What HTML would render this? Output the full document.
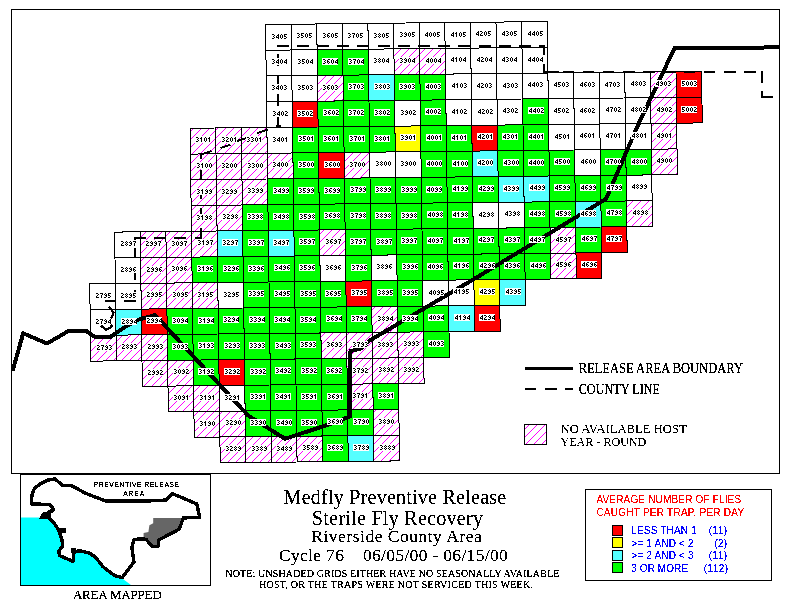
<!DOCTYPE html>
<html><head><meta charset="utf-8"><title>Medfly Preventive Release</title>
<style>
html,body{margin:0;padding:0;background:#fff;}
body{width:792px;height:610px;overflow:hidden;position:relative;font-family:"Liberation Serif",serif;color:#000;}
svg{position:absolute;left:0;top:0;}
.cells polygon{stroke:#000;stroke-width:1;shape-rendering:crispEdges;}
.W{fill:#fff}.H{fill:url(#h)}.G{fill:#0f0}.R{fill:#f00}.Y{fill:#ff0}.C{fill:#5ff}
.lr rect{fill:#fff;shape-rendering:crispEdges;}
.lt{fill:#000;shape-rendering:crispEdges;}
.t{position:absolute;white-space:nowrap;line-height:1;}
.c{text-align:center;}
.sans{font-family:"Liberation Sans",sans-serif;}
</style></head><body>
<svg width="792" height="610" viewBox="0 0 792 610">
<defs>
<filter id="bw" x="-2%" y="-10%" width="104%" height="120%" color-interpolation-filters="sRGB"><feComponentTransfer><feFuncA type="discrete" tableValues="0 0 0 0 1 1 1 1 1 1"/></feComponentTransfer></filter>
<filter id="bw2" x="-2%" y="-10%" width="104%" height="120%" color-interpolation-filters="sRGB"><feComponentTransfer><feFuncA type="table" tableValues="0 0.45 1 1 1"/></feComponentTransfer></filter>
<filter id="bw3" x="-2%" y="-10%" width="104%" height="120%" color-interpolation-filters="sRGB"><feComponentTransfer><feFuncA type="discrete" tableValues="0 0 0 0 0 0 0 1 1 1 1 1 1 1 1 1 1 1 1 1"/></feComponentTransfer></filter>
<filter id="bw4" x="-2%" y="-10%" width="104%" height="120%" color-interpolation-filters="sRGB"><feComponentTransfer><feFuncA type="discrete" tableValues="0 0 0 0 0 0 0 0 0 1 1 1 1 1 1 1 1 1 1 1"/></feComponentTransfer></filter>
<pattern id="h" width="8" height="8" patternUnits="userSpaceOnUse">
<rect width="8" height="8" fill="#fff"/>
<g fill="#f0f" shape-rendering="crispEdges">
<rect x="1" y="0" width="1" height="1"/><rect x="0" y="1" width="1" height="1"/><rect x="7" y="2" width="1" height="1"/><rect x="6" y="3" width="1" height="1"/><rect x="5" y="4" width="1" height="1"/><rect x="4" y="5" width="1" height="1"/><rect x="3" y="6" width="1" height="1"/><rect x="2" y="7" width="1" height="1"/>
</g>
</pattern>
</defs>
<!-- outer frame -->
<rect x="11.5" y="9.5" width="768" height="464" fill="#fff" stroke="#000" stroke-width="1" shape-rendering="crispEdges"/>
<defs><path id="c27" d="M0 0h2v1h-2zM2 1h1v1h-1zM1 2h1v1h-1zM0 3h1v1h-1zM0 4h3v1h-3zM4 0h3v1h-3zM6 1h1v1h-1zM5 2h1v1h-1zM5 3h1v1h-1zM5 4h1v1h-1z"/><path id="c28" d="M0 0h2v1h-2zM2 1h1v1h-1zM1 2h1v1h-1zM0 3h1v1h-1zM0 4h3v1h-3zM5 0h1v1h-1zM4 1h1v1h-1zM6 1h1v1h-1zM5 2h1v1h-1zM4 3h1v1h-1zM6 3h1v1h-1zM5 4h1v1h-1z"/><path id="c29" d="M0 0h2v1h-2zM2 1h1v1h-1zM1 2h1v1h-1zM0 3h1v1h-1zM0 4h3v1h-3zM5 0h1v1h-1zM4 1h1v1h-1zM6 1h1v1h-1zM5 2h2v1h-2zM6 3h1v1h-1zM4 4h2v1h-2z"/><path id="c30" d="M0 0h2v1h-2zM2 1h1v1h-1zM1 2h1v1h-1zM2 3h1v1h-1zM0 4h2v1h-2zM5 0h1v1h-1zM4 1h1v1h-1zM6 1h1v1h-1zM4 2h1v1h-1zM6 2h1v1h-1zM4 3h1v1h-1zM6 3h1v1h-1zM5 4h1v1h-1z"/><path id="c31" d="M0 0h2v1h-2zM2 1h1v1h-1zM1 2h1v1h-1zM2 3h1v1h-1zM0 4h2v1h-2zM5 0h1v1h-1zM4 1h2v1h-2zM5 2h1v1h-1zM5 3h1v1h-1zM5 4h1v1h-1z"/><path id="c32" d="M0 0h2v1h-2zM2 1h1v1h-1zM1 2h1v1h-1zM2 3h1v1h-1zM0 4h2v1h-2zM4 0h2v1h-2zM6 1h1v1h-1zM5 2h1v1h-1zM4 3h1v1h-1zM4 4h3v1h-3z"/><path id="c33" d="M0 0h2v1h-2zM2 1h1v1h-1zM1 2h1v1h-1zM2 3h1v1h-1zM0 4h2v1h-2zM4 0h2v1h-2zM6 1h1v1h-1zM5 2h1v1h-1zM6 3h1v1h-1zM4 4h2v1h-2z"/><path id="c34" d="M0 0h2v1h-2zM2 1h1v1h-1zM1 2h1v1h-1zM2 3h1v1h-1zM0 4h2v1h-2zM6 0h1v1h-1zM5 1h2v1h-2zM4 2h1v1h-1zM6 2h1v1h-1zM4 3h3v1h-3zM6 4h1v1h-1z"/><path id="c35" d="M0 0h2v1h-2zM2 1h1v1h-1zM1 2h1v1h-1zM2 3h1v1h-1zM0 4h2v1h-2zM4 0h3v1h-3zM4 1h1v1h-1zM4 2h2v1h-2zM6 3h1v1h-1zM4 4h2v1h-2z"/><path id="c36" d="M0 0h2v1h-2zM2 1h1v1h-1zM1 2h1v1h-1zM2 3h1v1h-1zM0 4h2v1h-2zM5 0h2v1h-2zM4 1h1v1h-1zM4 2h2v1h-2zM4 3h1v1h-1zM6 3h1v1h-1zM5 4h1v1h-1z"/><path id="c37" d="M0 0h2v1h-2zM2 1h1v1h-1zM1 2h1v1h-1zM2 3h1v1h-1zM0 4h2v1h-2zM4 0h3v1h-3zM6 1h1v1h-1zM5 2h1v1h-1zM5 3h1v1h-1zM5 4h1v1h-1z"/><path id="c38" d="M0 0h2v1h-2zM2 1h1v1h-1zM1 2h1v1h-1zM2 3h1v1h-1zM0 4h2v1h-2zM5 0h1v1h-1zM4 1h1v1h-1zM6 1h1v1h-1zM5 2h1v1h-1zM4 3h1v1h-1zM6 3h1v1h-1zM5 4h1v1h-1z"/><path id="c39" d="M0 0h2v1h-2zM2 1h1v1h-1zM1 2h1v1h-1zM2 3h1v1h-1zM0 4h2v1h-2zM5 0h1v1h-1zM4 1h1v1h-1zM6 1h1v1h-1zM5 2h2v1h-2zM6 3h1v1h-1zM4 4h2v1h-2z"/><path id="c40" d="M2 0h1v1h-1zM1 1h2v1h-2zM0 2h1v1h-1zM2 2h1v1h-1zM0 3h3v1h-3zM2 4h1v1h-1zM5 0h1v1h-1zM4 1h1v1h-1zM6 1h1v1h-1zM4 2h1v1h-1zM6 2h1v1h-1zM4 3h1v1h-1zM6 3h1v1h-1zM5 4h1v1h-1z"/><path id="c41" d="M2 0h1v1h-1zM1 1h2v1h-2zM0 2h1v1h-1zM2 2h1v1h-1zM0 3h3v1h-3zM2 4h1v1h-1zM5 0h1v1h-1zM4 1h2v1h-2zM5 2h1v1h-1zM5 3h1v1h-1zM5 4h1v1h-1z"/><path id="c42" d="M2 0h1v1h-1zM1 1h2v1h-2zM0 2h1v1h-1zM2 2h1v1h-1zM0 3h3v1h-3zM2 4h1v1h-1zM4 0h2v1h-2zM6 1h1v1h-1zM5 2h1v1h-1zM4 3h1v1h-1zM4 4h3v1h-3z"/><path id="c43" d="M2 0h1v1h-1zM1 1h2v1h-2zM0 2h1v1h-1zM2 2h1v1h-1zM0 3h3v1h-3zM2 4h1v1h-1zM4 0h2v1h-2zM6 1h1v1h-1zM5 2h1v1h-1zM6 3h1v1h-1zM4 4h2v1h-2z"/><path id="c44" d="M2 0h1v1h-1zM1 1h2v1h-2zM0 2h1v1h-1zM2 2h1v1h-1zM0 3h3v1h-3zM2 4h1v1h-1zM6 0h1v1h-1zM5 1h2v1h-2zM4 2h1v1h-1zM6 2h1v1h-1zM4 3h3v1h-3zM6 4h1v1h-1z"/><path id="c45" d="M2 0h1v1h-1zM1 1h2v1h-2zM0 2h1v1h-1zM2 2h1v1h-1zM0 3h3v1h-3zM2 4h1v1h-1zM4 0h3v1h-3zM4 1h1v1h-1zM4 2h2v1h-2zM6 3h1v1h-1zM4 4h2v1h-2z"/><path id="c46" d="M2 0h1v1h-1zM1 1h2v1h-2zM0 2h1v1h-1zM2 2h1v1h-1zM0 3h3v1h-3zM2 4h1v1h-1zM5 0h2v1h-2zM4 1h1v1h-1zM4 2h2v1h-2zM4 3h1v1h-1zM6 3h1v1h-1zM5 4h1v1h-1z"/><path id="c47" d="M2 0h1v1h-1zM1 1h2v1h-2zM0 2h1v1h-1zM2 2h1v1h-1zM0 3h3v1h-3zM2 4h1v1h-1zM4 0h3v1h-3zM6 1h1v1h-1zM5 2h1v1h-1zM5 3h1v1h-1zM5 4h1v1h-1z"/><path id="c48" d="M2 0h1v1h-1zM1 1h2v1h-2zM0 2h1v1h-1zM2 2h1v1h-1zM0 3h3v1h-3zM2 4h1v1h-1zM5 0h1v1h-1zM4 1h1v1h-1zM6 1h1v1h-1zM5 2h1v1h-1zM4 3h1v1h-1zM6 3h1v1h-1zM5 4h1v1h-1z"/><path id="c49" d="M2 0h1v1h-1zM1 1h2v1h-2zM0 2h1v1h-1zM2 2h1v1h-1zM0 3h3v1h-3zM2 4h1v1h-1zM5 0h1v1h-1zM4 1h1v1h-1zM6 1h1v1h-1zM5 2h2v1h-2zM6 3h1v1h-1zM4 4h2v1h-2z"/><path id="c50" d="M0 0h3v1h-3zM0 1h1v1h-1zM0 2h2v1h-2zM2 3h1v1h-1zM0 4h2v1h-2zM5 0h1v1h-1zM4 1h1v1h-1zM6 1h1v1h-1zM4 2h1v1h-1zM6 2h1v1h-1zM4 3h1v1h-1zM6 3h1v1h-1zM5 4h1v1h-1z"/><path id="r05" d="M9 0h1v1h-1zM8 1h1v1h-1zM10 1h1v1h-1zM8 2h1v1h-1zM10 2h1v1h-1zM8 3h1v1h-1zM10 3h1v1h-1zM9 4h1v1h-1zM12 0h3v1h-3zM12 1h1v1h-1zM12 2h2v1h-2zM14 3h1v1h-1zM12 4h2v1h-2z"/><path id="r04" d="M9 0h1v1h-1zM8 1h1v1h-1zM10 1h1v1h-1zM8 2h1v1h-1zM10 2h1v1h-1zM8 3h1v1h-1zM10 3h1v1h-1zM9 4h1v1h-1zM14 0h1v1h-1zM13 1h2v1h-2zM12 2h1v1h-1zM14 2h1v1h-1zM12 3h3v1h-3zM14 4h1v1h-1z"/><path id="r03" d="M9 0h1v1h-1zM8 1h1v1h-1zM10 1h1v1h-1zM8 2h1v1h-1zM10 2h1v1h-1zM8 3h1v1h-1zM10 3h1v1h-1zM9 4h1v1h-1zM12 0h2v1h-2zM14 1h1v1h-1zM13 2h1v1h-1zM14 3h1v1h-1zM12 4h2v1h-2z"/><path id="r02" d="M9 0h1v1h-1zM8 1h1v1h-1zM10 1h1v1h-1zM8 2h1v1h-1zM10 2h1v1h-1zM8 3h1v1h-1zM10 3h1v1h-1zM9 4h1v1h-1zM12 0h2v1h-2zM14 1h1v1h-1zM13 2h1v1h-1zM12 3h1v1h-1zM12 4h3v1h-3z"/><path id="r01" d="M9 0h1v1h-1zM8 1h1v1h-1zM10 1h1v1h-1zM8 2h1v1h-1zM10 2h1v1h-1zM8 3h1v1h-1zM10 3h1v1h-1zM9 4h1v1h-1zM13 0h1v1h-1zM12 1h2v1h-2zM13 2h1v1h-1zM13 3h1v1h-1zM13 4h1v1h-1z"/><path id="r00" d="M9 0h1v1h-1zM8 1h1v1h-1zM10 1h1v1h-1zM8 2h1v1h-1zM10 2h1v1h-1zM8 3h1v1h-1zM10 3h1v1h-1zM9 4h1v1h-1zM13 0h1v1h-1zM12 1h1v1h-1zM14 1h1v1h-1zM12 2h1v1h-1zM14 2h1v1h-1zM12 3h1v1h-1zM14 3h1v1h-1zM13 4h1v1h-1z"/><path id="r99" d="M9 0h1v1h-1zM8 1h1v1h-1zM10 1h1v1h-1zM9 2h2v1h-2zM10 3h1v1h-1zM8 4h2v1h-2zM13 0h1v1h-1zM12 1h1v1h-1zM14 1h1v1h-1zM13 2h2v1h-2zM14 3h1v1h-1zM12 4h2v1h-2z"/><path id="r98" d="M9 0h1v1h-1zM8 1h1v1h-1zM10 1h1v1h-1zM9 2h2v1h-2zM10 3h1v1h-1zM8 4h2v1h-2zM13 0h1v1h-1zM12 1h1v1h-1zM14 1h1v1h-1zM13 2h1v1h-1zM12 3h1v1h-1zM14 3h1v1h-1zM13 4h1v1h-1z"/><path id="r97" d="M9 0h1v1h-1zM8 1h1v1h-1zM10 1h1v1h-1zM9 2h2v1h-2zM10 3h1v1h-1zM8 4h2v1h-2zM12 0h3v1h-3zM14 1h1v1h-1zM13 2h1v1h-1zM13 3h1v1h-1zM13 4h1v1h-1z"/><path id="r96" d="M9 0h1v1h-1zM8 1h1v1h-1zM10 1h1v1h-1zM9 2h2v1h-2zM10 3h1v1h-1zM8 4h2v1h-2zM13 0h2v1h-2zM12 1h1v1h-1zM12 2h2v1h-2zM12 3h1v1h-1zM14 3h1v1h-1zM13 4h1v1h-1z"/><path id="r95" d="M9 0h1v1h-1zM8 1h1v1h-1zM10 1h1v1h-1zM9 2h2v1h-2zM10 3h1v1h-1zM8 4h2v1h-2zM12 0h3v1h-3zM12 1h1v1h-1zM12 2h2v1h-2zM14 3h1v1h-1zM12 4h2v1h-2z"/><path id="r94" d="M9 0h1v1h-1zM8 1h1v1h-1zM10 1h1v1h-1zM9 2h2v1h-2zM10 3h1v1h-1zM8 4h2v1h-2zM14 0h1v1h-1zM13 1h2v1h-2zM12 2h1v1h-1zM14 2h1v1h-1zM12 3h3v1h-3zM14 4h1v1h-1z"/><path id="r93" d="M9 0h1v1h-1zM8 1h1v1h-1zM10 1h1v1h-1zM9 2h2v1h-2zM10 3h1v1h-1zM8 4h2v1h-2zM12 0h2v1h-2zM14 1h1v1h-1zM13 2h1v1h-1zM14 3h1v1h-1zM12 4h2v1h-2z"/><path id="r92" d="M9 0h1v1h-1zM8 1h1v1h-1zM10 1h1v1h-1zM9 2h2v1h-2zM10 3h1v1h-1zM8 4h2v1h-2zM12 0h2v1h-2zM14 1h1v1h-1zM13 2h1v1h-1zM12 3h1v1h-1zM12 4h3v1h-3z"/><path id="r91" d="M9 0h1v1h-1zM8 1h1v1h-1zM10 1h1v1h-1zM9 2h2v1h-2zM10 3h1v1h-1zM8 4h2v1h-2zM13 0h1v1h-1zM12 1h2v1h-2zM13 2h1v1h-1zM13 3h1v1h-1zM13 4h1v1h-1z"/><path id="r90" d="M9 0h1v1h-1zM8 1h1v1h-1zM10 1h1v1h-1zM9 2h2v1h-2zM10 3h1v1h-1zM8 4h2v1h-2zM13 0h1v1h-1zM12 1h1v1h-1zM14 1h1v1h-1zM12 2h1v1h-1zM14 2h1v1h-1zM12 3h1v1h-1zM14 3h1v1h-1zM13 4h1v1h-1z"/><path id="r89" d="M9 0h1v1h-1zM8 1h1v1h-1zM10 1h1v1h-1zM9 2h1v1h-1zM8 3h1v1h-1zM10 3h1v1h-1zM9 4h1v1h-1zM13 0h1v1h-1zM12 1h1v1h-1zM14 1h1v1h-1zM13 2h2v1h-2zM14 3h1v1h-1zM12 4h2v1h-2z"/></defs>
<g class="cells"><g class="W"><polygon points="265.5,24.5 291.1,24.2 291.5,50 265.9,50.2"/><polygon points="291.1,24.2 316.7,24 317.1,49.7 291.5,50"/><polygon points="316.7,24 342.3,23.7 342.7,49.4 317.1,49.7"/><polygon points="342.3,23.7 367.9,23.4 368.3,49.2 342.7,49.4"/><polygon points="367.9,23.4 393.6,23.1 393.9,48.9 368.3,49.2"/><polygon points="393.6,23.1 419.2,22.9 419.5,48.6 393.9,48.9"/><polygon points="419.2,22.9 444.8,22.6 445.1,48.4 419.5,48.6"/><polygon points="444.8,22.6 470.4,22.3 470.7,48.1 445.1,48.4"/><polygon points="470.4,22.3 496,22.1 496.3,47.8 470.7,48.1"/><polygon points="496,22.1 521.6,21.8 522,47.5 496.3,47.8"/><polygon points="521.6,21.8 547.2,21.5 547.6,47.3 522,47.5"/><polygon points="265.9,50.2 291.5,50 291.8,75.7 266.2,76"/><polygon points="291.5,50 317.1,49.7 317.4,75.5 291.8,75.7"/><polygon points="368.3,49.2 393.9,48.9 394.2,74.7 368.6,74.9"/><polygon points="445.1,48.4 470.7,48.1 471.1,73.8 445.5,74.1"/><polygon points="470.7,48.1 496.3,47.8 496.7,73.6 471.1,73.8"/><polygon points="496.3,47.8 522,47.5 522.3,73.3 496.7,73.6"/><polygon points="522,47.5 547.6,47.3 547.9,73 522.3,73.3"/><polygon points="266.2,76 291.8,75.7 292.2,101.5 266.6,101.8"/><polygon points="291.8,75.7 317.4,75.5 317.8,101.2 292.2,101.5"/><polygon points="445.5,74.1 471.1,73.8 471.4,99.6 445.8,99.9"/><polygon points="471.1,73.8 496.7,73.6 497,99.3 471.4,99.6"/><polygon points="496.7,73.6 522.3,73.3 522.6,99 497,99.3"/><polygon points="522.3,73.3 547.9,73 548.3,98.8 522.6,99"/><polygon points="547.9,73 573.5,72.8 573.9,98.5 548.3,98.8"/><polygon points="573.5,72.8 599.1,72.5 599.5,98.2 573.9,98.5"/><polygon points="599.1,72.5 624.7,72.2 625.1,98 599.5,98.2"/><polygon points="624.7,72.2 650.4,72 650.7,97.7 625.1,98"/><polygon points="266.6,101.8 292.2,101.5 292.5,127.2 266.9,127.5"/><polygon points="394.6,100.4 420.2,100.1 420.6,125.9 394.9,126.2"/><polygon points="445.8,99.9 471.4,99.6 471.8,125.3 446.2,125.6"/><polygon points="471.4,99.6 497,99.3 497.4,125.1 471.8,125.3"/><polygon points="497,99.3 522.6,99 523,124.8 497.4,125.1"/><polygon points="548.3,98.8 573.9,98.5 574.2,124.3 548.6,124.5"/><polygon points="573.9,98.5 599.5,98.2 599.8,124 574.2,124.3"/><polygon points="599.5,98.2 625.1,98 625.4,123.7 599.8,124"/><polygon points="625.1,98 650.7,97.7 651,123.5 625.4,123.7"/><polygon points="266.9,127.5 292.5,127.2 292.9,153 267.2,153.2"/><polygon points="548.6,124.5 574.2,124.3 574.6,150 549,150.3"/><polygon points="574.2,124.3 599.8,124 600.2,149.7 574.6,150"/><polygon points="599.8,124 625.4,123.7 625.8,149.5 600.2,149.7"/><polygon points="625.4,123.7 651,123.5 651.4,149.2 625.8,149.5"/><polygon points="369.7,152.2 395.3,151.9 395.7,177.7 370,177.9"/><polygon points="395.3,151.9 420.9,151.6 421.3,177.4 395.7,177.7"/><polygon points="574.6,150 600.2,149.7 600.5,175.5 574.9,175.8"/><polygon points="626.1,175.2 651.8,174.9 652.1,200.7 626.5,201"/><polygon points="472.8,202.6 498.4,202.3 498.8,228.1 473.2,228.3"/><polygon points="498.4,202.3 524.1,202.1 524.4,227.8 498.8,228.1"/><polygon points="114.6,232.1 140.2,231.8 140.6,257.6 115,257.9"/><polygon points="115,257.9 140.6,257.6 140.9,283.4 115.3,283.6"/><polygon points="319.9,255.7 345.5,255.4 345.8,281.2 320.2,281.5"/><polygon points="371.1,255.2 396.7,254.9 397.1,280.6 371.4,280.9"/><polygon points="89.7,283.9 115.3,283.6 115.7,309.4 90.1,309.6"/><polygon points="115.3,283.6 140.9,283.4 141.3,309.1 115.7,309.4"/><polygon points="217.8,282.5 243.4,282.3 243.7,308 218.1,308.3"/><polygon points="422.7,280.4 448.3,280.1 448.6,305.9 423,306.1"/><polygon points="448.3,280.1 473.9,279.8 474.2,305.6 448.6,305.9"/><polygon points="90.1,309.6 115.7,309.4 116,335.1 90.4,335.4"/><polygon points="219.2,385.5 244.8,385.3 245.1,411 219.5,411.3"/></g><g class="G"><polygon points="317.1,49.7 342.7,49.4 343,75.2 317.4,75.5"/><polygon points="342.7,49.4 368.3,49.2 368.6,74.9 343,75.2"/><polygon points="343,75.2 368.6,74.9 369,100.7 343.4,100.9"/><polygon points="394.2,74.7 419.9,74.4 420.2,100.1 394.6,100.4"/><polygon points="419.9,74.4 445.5,74.1 445.8,99.9 420.2,100.1"/><polygon points="317.8,101.2 343.4,100.9 343.7,126.7 318.1,127"/><polygon points="343.4,100.9 369,100.7 369.3,126.4 343.7,126.7"/><polygon points="369,100.7 394.6,100.4 394.9,126.2 369.3,126.4"/><polygon points="420.2,100.1 445.8,99.9 446.2,125.6 420.6,125.9"/><polygon points="522.6,99 548.3,98.8 548.6,124.5 523,124.8"/><polygon points="292.5,127.2 318.1,127 318.5,152.7 292.9,153"/><polygon points="318.1,127 343.7,126.7 344.1,152.4 318.5,152.7"/><polygon points="343.7,126.7 369.3,126.4 369.7,152.2 344.1,152.4"/><polygon points="369.3,126.4 394.9,126.2 395.3,151.9 369.7,152.2"/><polygon points="420.6,125.9 446.2,125.6 446.5,151.4 420.9,151.6"/><polygon points="446.2,125.6 471.8,125.3 472.1,151.1 446.5,151.4"/><polygon points="497.4,125.1 523,124.8 523.4,150.6 497.7,150.8"/><polygon points="523,124.8 548.6,124.5 549,150.3 523.4,150.6"/><polygon points="292.9,153 318.5,152.7 318.8,178.5 293.2,178.7"/><polygon points="420.9,151.6 446.5,151.4 446.9,177.1 421.3,177.4"/><polygon points="446.5,151.4 472.1,151.1 472.5,176.8 446.9,177.1"/><polygon points="497.7,150.8 523.4,150.6 523.7,176.3 498.1,176.6"/><polygon points="523.4,150.6 549,150.3 549.3,176 523.7,176.3"/><polygon points="549,150.3 574.6,150 574.9,175.8 549.3,176"/><polygon points="600.2,149.7 625.8,149.5 626.1,175.2 600.5,175.5"/><polygon points="625.8,149.5 651.4,149.2 651.8,174.9 626.1,175.2"/><polygon points="267.6,179 293.2,178.7 293.6,204.5 267.9,204.8"/><polygon points="293.2,178.7 318.8,178.5 319.2,204.2 293.6,204.5"/><polygon points="318.8,178.5 344.4,178.2 344.8,203.9 319.2,204.2"/><polygon points="344.4,178.2 370,177.9 370.4,203.7 344.8,203.9"/><polygon points="370,177.9 395.7,177.7 396,203.4 370.4,203.7"/><polygon points="395.7,177.7 421.3,177.4 421.6,203.1 396,203.4"/><polygon points="421.3,177.4 446.9,177.1 447.2,202.9 421.6,203.1"/><polygon points="446.9,177.1 472.5,176.8 472.8,202.6 447.2,202.9"/><polygon points="472.5,176.8 498.1,176.6 498.4,202.3 472.8,202.6"/><polygon points="549.3,176 574.9,175.8 575.3,201.5 549.7,201.8"/><polygon points="574.9,175.8 600.5,175.5 600.9,201.2 575.3,201.5"/><polygon points="600.5,175.5 626.1,175.2 626.5,201 600.9,201.2"/><polygon points="242.3,205 267.9,204.8 268.3,230.5 242.7,230.8"/><polygon points="267.9,204.8 293.6,204.5 293.9,230.2 268.3,230.5"/><polygon points="293.6,204.5 319.2,204.2 319.5,230 293.9,230.2"/><polygon points="319.2,204.2 344.8,203.9 345.1,229.7 319.5,230"/><polygon points="344.8,203.9 370.4,203.7 370.7,229.4 345.1,229.7"/><polygon points="370.4,203.7 396,203.4 396.4,229.2 370.7,229.4"/><polygon points="396,203.4 421.6,203.1 422,228.9 396.4,229.2"/><polygon points="421.6,203.1 447.2,202.9 447.6,228.6 422,228.9"/><polygon points="447.2,202.9 472.8,202.6 473.2,228.3 447.6,228.6"/><polygon points="524.1,202.1 549.7,201.8 550,227.5 524.4,227.8"/><polygon points="549.7,201.8 575.3,201.5 575.6,227.3 550,227.5"/><polygon points="600.9,201.2 626.5,201 626.8,226.7 601.2,227"/><polygon points="242.7,230.8 268.3,230.5 268.6,256.2 243,256.5"/><polygon points="293.9,230.2 319.5,230 319.9,255.7 294.3,256"/><polygon points="345.1,229.7 370.7,229.4 371.1,255.2 345.5,255.4"/><polygon points="370.7,229.4 396.4,229.2 396.7,254.9 371.1,255.2"/><polygon points="396.4,229.2 422,228.9 422.3,254.6 396.7,254.9"/><polygon points="422,228.9 447.6,228.6 447.9,254.4 422.3,254.6"/><polygon points="447.6,228.6 473.2,228.3 473.5,254.1 447.9,254.4"/><polygon points="473.2,228.3 498.8,228.1 499.1,253.8 473.5,254.1"/><polygon points="498.8,228.1 524.4,227.8 524.8,253.6 499.1,253.8"/><polygon points="524.4,227.8 550,227.5 550.4,253.3 524.8,253.6"/><polygon points="575.6,227.3 601.2,227 601.6,252.7 576,253"/><polygon points="191.8,257.1 217.4,256.8 217.8,282.5 192.2,282.8"/><polygon points="217.4,256.8 243,256.5 243.4,282.3 217.8,282.5"/><polygon points="243,256.5 268.6,256.2 269,282 243.4,282.3"/><polygon points="268.6,256.2 294.3,256 294.6,281.7 269,282"/><polygon points="294.3,256 319.9,255.7 320.2,281.5 294.6,281.7"/><polygon points="345.5,255.4 371.1,255.2 371.4,280.9 345.8,281.2"/><polygon points="396.7,254.9 422.3,254.6 422.7,280.4 397.1,280.6"/><polygon points="422.3,254.6 447.9,254.4 448.3,280.1 422.7,280.4"/><polygon points="447.9,254.4 473.5,254.1 473.9,279.8 448.3,280.1"/><polygon points="473.5,254.1 499.1,253.8 499.5,279.6 473.9,279.8"/><polygon points="499.1,253.8 524.8,253.6 525.1,279.3 499.5,279.6"/><polygon points="524.8,253.6 550.4,253.3 550.7,279 525.1,279.3"/><polygon points="243.4,282.3 269,282 269.4,307.8 243.7,308"/><polygon points="269,282 294.6,281.7 295,307.5 269.4,307.8"/><polygon points="294.6,281.7 320.2,281.5 320.6,307.2 295,307.5"/><polygon points="320.2,281.5 345.8,281.2 346.2,306.9 320.6,307.2"/><polygon points="371.4,280.9 397.1,280.6 397.4,306.4 371.8,306.7"/><polygon points="397.1,280.6 422.7,280.4 423,306.1 397.4,306.4"/><polygon points="166.9,308.8 192.5,308.6 192.9,334.3 167.3,334.6"/><polygon points="192.5,308.6 218.1,308.3 218.5,334 192.9,334.3"/><polygon points="218.1,308.3 243.7,308 244.1,333.8 218.5,334"/><polygon points="243.7,308 269.4,307.8 269.7,333.5 244.1,333.8"/><polygon points="269.4,307.8 295,307.5 295.3,333.2 269.7,333.5"/><polygon points="295,307.5 320.6,307.2 320.9,333 295.3,333.2"/><polygon points="320.6,307.2 346.2,306.9 346.5,332.7 320.9,333"/><polygon points="346.2,306.9 371.8,306.7 372.1,332.4 346.5,332.7"/><polygon points="397.4,306.4 423,306.1 423.4,331.9 397.8,332.1"/><polygon points="423,306.1 448.6,305.9 449,331.6 423.4,331.9"/><polygon points="167.3,334.6 192.9,334.3 193.2,360.1 167.6,360.3"/><polygon points="192.9,334.3 218.5,334 218.8,359.8 193.2,360.1"/><polygon points="218.5,334 244.1,333.8 244.4,359.5 218.8,359.8"/><polygon points="244.1,333.8 269.7,333.5 270.1,359.2 244.4,359.5"/><polygon points="269.7,333.5 295.3,333.2 295.7,359 270.1,359.2"/><polygon points="295.3,333.2 320.9,333 321.3,358.7 295.7,359"/><polygon points="423.4,331.9 449,331.6 449.3,357.4 423.7,357.6"/><polygon points="193.2,360.1 218.8,359.8 219.2,385.5 193.6,385.8"/><polygon points="244.4,359.5 270.1,359.2 270.4,385 244.8,385.3"/><polygon points="270.1,359.2 295.7,359 296,384.7 270.4,385"/><polygon points="295.7,359 321.3,358.7 321.6,384.5 296,384.7"/><polygon points="321.3,358.7 346.9,358.4 347.2,384.2 321.6,384.5"/><polygon points="244.8,385.3 270.4,385 270.8,410.8 245.1,411"/><polygon points="270.4,385 296,384.7 296.4,410.5 270.8,410.8"/><polygon points="296,384.7 321.6,384.5 322,410.2 296.4,410.5"/><polygon points="321.6,384.5 347.2,384.2 347.6,409.9 322,410.2"/><polygon points="372.8,383.9 398.4,383.6 398.8,409.4 373.2,409.7"/><polygon points="245.1,411 270.8,410.8 271.1,436.5 245.5,436.8"/><polygon points="270.8,410.8 296.4,410.5 296.7,436.2 271.1,436.5"/><polygon points="296.4,410.5 322,410.2 322.3,436 296.7,436.2"/><polygon points="322,410.2 347.6,409.9 347.9,435.7 322.3,436"/><polygon points="347.6,409.9 373.2,409.7 373.5,435.4 347.9,435.7"/><polygon points="322.3,436 347.9,435.7 348.3,461.4 322.7,461.7"/></g><g class="H"><polygon points="393.9,48.9 419.5,48.6 419.9,74.4 394.2,74.7"/><polygon points="419.5,48.6 445.1,48.4 445.5,74.1 419.9,74.4"/><polygon points="317.4,75.5 343,75.2 343.4,100.9 317.8,101.2"/><polygon points="650.4,72 676,71.7 676.3,97.4 650.7,97.7"/><polygon points="650.7,97.7 676.3,97.4 676.7,123.2 651,123.5"/><polygon points="190.1,128.3 215.7,128 216,153.8 190.4,154.1"/><polygon points="215.7,128 241.3,127.8 241.6,153.5 216,153.8"/><polygon points="241.3,127.8 266.9,127.5 267.2,153.2 241.6,153.5"/><polygon points="651,123.5 676.7,123.2 677,148.9 651.4,149.2"/><polygon points="190.4,154.1 216,153.8 216.4,179.5 190.8,179.8"/><polygon points="216,153.8 241.6,153.5 242,179.3 216.4,179.5"/><polygon points="241.6,153.5 267.2,153.2 267.6,179 242,179.3"/><polygon points="267.2,153.2 292.9,153 293.2,178.7 267.6,179"/><polygon points="344.1,152.4 369.7,152.2 370,177.9 344.4,178.2"/><polygon points="651.4,149.2 677,148.9 677.4,174.7 651.8,174.9"/><polygon points="190.8,179.8 216.4,179.5 216.7,205.3 191.1,205.6"/><polygon points="216.4,179.5 242,179.3 242.3,205 216.7,205.3"/><polygon points="242,179.3 267.6,179 267.9,204.8 242.3,205"/><polygon points="191.1,205.6 216.7,205.3 217.1,231 191.5,231.3"/><polygon points="216.7,205.3 242.3,205 242.7,230.8 217.1,231"/><polygon points="626.5,201 652.1,200.7 652.4,226.4 626.8,226.7"/><polygon points="140.2,231.8 165.9,231.6 166.2,257.3 140.6,257.6"/><polygon points="165.9,231.6 191.5,231.3 191.8,257.1 166.2,257.3"/><polygon points="191.5,231.3 217.1,231 217.4,256.8 191.8,257.1"/><polygon points="319.5,230 345.1,229.7 345.5,255.4 319.9,255.7"/><polygon points="550,227.5 575.6,227.3 576,253 550.4,253.3"/><polygon points="140.6,257.6 166.2,257.3 166.6,283.1 140.9,283.4"/><polygon points="166.2,257.3 191.8,257.1 192.2,282.8 166.6,283.1"/><polygon points="550.4,253.3 576,253 576.3,278.8 550.7,279"/><polygon points="140.9,283.4 166.6,283.1 166.9,308.8 141.3,309.1"/><polygon points="166.6,283.1 192.2,282.8 192.5,308.6 166.9,308.8"/><polygon points="192.2,282.8 217.8,282.5 218.1,308.3 192.5,308.6"/><polygon points="371.8,306.7 397.4,306.4 397.8,332.1 372.1,332.4"/><polygon points="90.4,335.4 116,335.1 116.4,360.9 90.8,361.1"/><polygon points="116,335.1 141.6,334.9 142,360.6 116.4,360.9"/><polygon points="141.6,334.9 167.3,334.6 167.6,360.3 142,360.6"/><polygon points="320.9,333 346.5,332.7 346.9,358.4 321.3,358.7"/><polygon points="346.5,332.7 372.1,332.4 372.5,358.2 346.9,358.4"/><polygon points="372.1,332.4 397.8,332.1 398.1,357.9 372.5,358.2"/><polygon points="397.8,332.1 423.4,331.9 423.7,357.6 398.1,357.9"/><polygon points="142,360.6 167.6,360.3 168,386.1 142.3,386.4"/><polygon points="167.6,360.3 193.2,360.1 193.6,385.8 168,386.1"/><polygon points="346.9,358.4 372.5,358.2 372.8,383.9 347.2,384.2"/><polygon points="372.5,358.2 398.1,357.9 398.4,383.6 372.8,383.9"/><polygon points="398.1,357.9 423.7,357.6 424.1,383.4 398.4,383.6"/><polygon points="168,386.1 193.6,385.8 193.9,411.6 168.3,411.8"/><polygon points="193.6,385.8 219.2,385.5 219.5,411.3 193.9,411.6"/><polygon points="347.2,384.2 372.8,383.9 373.2,409.7 347.6,409.9"/><polygon points="193.9,411.6 219.5,411.3 219.9,437 194.3,437.3"/><polygon points="219.5,411.3 245.1,411 245.5,436.8 219.9,437"/><polygon points="373.2,409.7 398.8,409.4 399.2,435.1 373.5,435.4"/><polygon points="219.9,437 245.5,436.8 245.8,462.5 220.2,462.8"/><polygon points="245.5,436.8 271.1,436.5 271.4,462.2 245.8,462.5"/><polygon points="271.1,436.5 296.7,436.2 297.1,462 271.4,462.2"/><polygon points="296.7,436.2 322.3,436 322.7,461.7 297.1,462"/><polygon points="373.5,435.4 399.2,435.1 399.5,460.9 373.9,461.2"/></g><g class="C"><polygon points="368.6,74.9 394.2,74.7 394.6,100.4 369,100.7"/><polygon points="472.1,151.1 497.7,150.8 498.1,176.6 472.5,176.8"/><polygon points="498.1,176.6 523.7,176.3 524.1,202.1 498.4,202.3"/><polygon points="523.7,176.3 549.3,176 549.7,201.8 524.1,202.1"/><polygon points="575.3,201.5 600.9,201.2 601.2,227 575.6,227.3"/><polygon points="217.1,231 242.7,230.8 243,256.5 217.4,256.8"/><polygon points="268.3,230.5 293.9,230.2 294.3,256 268.6,256.2"/><polygon points="499.5,279.6 525.1,279.3 525.5,305.1 499.8,305.3"/><polygon points="115.7,309.4 141.3,309.1 141.6,334.9 116,335.1"/><polygon points="448.6,305.9 474.2,305.6 474.6,331.3 449,331.6"/><polygon points="347.9,435.7 373.5,435.4 373.9,461.2 348.3,461.4"/></g><g class="R"><polygon points="676,71.7 701.6,71.4 701.9,97.2 676.3,97.4"/><polygon points="292.2,101.5 317.8,101.2 318.1,127 292.5,127.2"/><polygon points="676.3,97.4 701.9,97.2 702.3,122.9 676.7,123.2"/><polygon points="471.8,125.3 497.4,125.1 497.7,150.8 472.1,151.1"/><polygon points="318.5,152.7 344.1,152.4 344.4,178.2 318.8,178.5"/><polygon points="601.2,227 626.8,226.7 627.2,252.5 601.6,252.7"/><polygon points="576,253 601.6,252.7 601.9,278.5 576.3,278.8"/><polygon points="345.8,281.2 371.4,280.9 371.8,306.7 346.2,306.9"/><polygon points="141.3,309.1 166.9,308.8 167.3,334.6 141.6,334.9"/><polygon points="474.2,305.6 499.8,305.3 500.2,331.1 474.6,331.3"/><polygon points="218.8,359.8 244.4,359.5 244.8,385.3 219.2,385.5"/></g><g class="Y"><polygon points="394.9,126.2 420.6,125.9 420.9,151.6 395.3,151.9"/><polygon points="473.9,279.8 499.5,279.6 499.8,305.3 474.2,305.6"/></g></g>
<g class="county" fill="none" stroke="#000" stroke-width="2" shape-rendering="crispEdges">
<path d="M276.5 45.7H545.3" stroke-dasharray="12 8.2"/>
<path d="M544.3 44.7V55M544.3 63.8V72.6M543.3 71.7H558.7"/>
<path d="M562.5 71.7H756" stroke-dasharray="11.4 8.8"/>
<path d="M761 71.7H763.2M762.2 70.7V83.4M762.2 91V97.5M761.2 96.5H773"/>
<path d="M278.1 53.8V66M278.1 74.5V86M278.1 93.8V105.6M278.1 117.4V127.2M276.2 125.8H280.8"/>
<path d="M267.6 129.7L257.3 133.2M250 137L236 141.3M230.5 144.8L220.6 147.9M211.5 150.9L201.2 154.4"/>
<path d="M201.2 153.7V159.3M201.2 169.7V180M201.2 188V199M201.2 207.7V220M201.2 228.1V238.6M194.6 237.6H202.2M173.7 237.6H186M154 237.6H165.1M134.1 237.6H145.5"/>
<path d="M135.1 236.6V240.5M135.1 248.3V257M135.1 266.7V280.2M135.1 290V291.6M124.1 300.9H135.9M104.8 300.9H115.5"/>
<path d="M108.9 306.4L113.4 312.4L112.3 316.5L110 319V324L111.9 325.6L110.8 327.6L105.5 329.8L101.3 325.7" stroke-linejoin="round" stroke-width="2.3"/>
</g>
<path class="rab" d="M779 47.4L674.5 48.2L637.4 126.4L606 199L480 275.5L369.4 340.7L361 348.5L350.3 351.2V416.4L328.9 424.4L285 438.8L248.1 415.5L155.2 315.1L138 319.8L125.2 326.9L110.2 337H95.1L85.5 330.5H69.4L47.9 343H45.8L23.2 333.3L12.5 371" fill="none" stroke="#000" stroke-width="4" stroke-linejoin="round" shape-rendering="crispEdges"/>

<g class="lr"><rect x="271" y="33" width="16" height="7"/><rect x="296" y="32" width="16" height="7"/><rect x="322" y="32" width="16" height="7"/><rect x="347" y="32" width="16" height="7"/><rect x="373" y="32" width="16" height="7"/><rect x="399" y="31" width="16" height="7"/><rect x="424" y="31" width="16" height="7"/><rect x="450" y="31" width="16" height="7"/><rect x="475" y="30" width="16" height="7"/><rect x="501" y="30" width="16" height="7"/><rect x="527" y="30" width="16" height="7"/><rect x="271" y="58" width="16" height="7"/><rect x="297" y="58" width="16" height="7"/><rect x="322" y="58" width="16" height="7"/><rect x="348" y="58" width="16" height="7"/><rect x="373" y="57" width="16" height="7"/><rect x="399" y="57" width="16" height="7"/><rect x="425" y="57" width="16" height="7"/><rect x="450" y="56" width="16" height="7"/><rect x="476" y="56" width="16" height="7"/><rect x="501" y="56" width="16" height="7"/><rect x="527" y="56" width="16" height="7"/><rect x="271" y="84" width="16" height="7"/><rect x="297" y="84" width="16" height="7"/><rect x="322" y="84" width="16" height="7"/><rect x="348" y="83" width="16" height="7"/><rect x="374" y="83" width="16" height="7"/><rect x="399" y="83" width="16" height="7"/><rect x="425" y="83" width="16" height="7"/><rect x="451" y="82" width="16" height="7"/><rect x="476" y="82" width="16" height="7"/><rect x="502" y="82" width="16" height="7"/><rect x="527" y="81" width="16" height="7"/><rect x="553" y="81" width="16" height="7"/><rect x="579" y="81" width="16" height="7"/><rect x="604" y="81" width="16" height="7"/><rect x="630" y="80" width="16" height="7"/><rect x="655" y="80" width="16" height="7"/><rect x="681" y="80" width="16" height="7"/><rect x="272" y="110" width="16" height="7"/><rect x="297" y="110" width="16" height="7"/><rect x="323" y="109" width="16" height="7"/><rect x="348" y="109" width="16" height="7"/><rect x="374" y="109" width="16" height="7"/><rect x="400" y="109" width="16" height="7"/><rect x="425" y="108" width="16" height="7"/><rect x="451" y="108" width="16" height="7"/><rect x="477" y="108" width="16" height="7"/><rect x="502" y="107" width="16" height="7"/><rect x="528" y="107" width="16" height="7"/><rect x="553" y="107" width="16" height="7"/><rect x="579" y="107" width="16" height="7"/><rect x="605" y="106" width="16" height="7"/><rect x="630" y="106" width="16" height="7"/><rect x="656" y="106" width="16" height="7"/><rect x="681" y="106" width="16" height="7"/><rect x="195" y="136" width="16" height="7"/><rect x="221" y="136" width="16" height="7"/><rect x="246" y="136" width="16" height="7"/><rect x="272" y="136" width="16" height="7"/><rect x="298" y="135" width="16" height="7"/><rect x="323" y="135" width="16" height="7"/><rect x="349" y="135" width="16" height="7"/><rect x="374" y="135" width="16" height="7"/><rect x="400" y="134" width="16" height="7"/><rect x="426" y="134" width="16" height="7"/><rect x="451" y="134" width="16" height="7"/><rect x="477" y="133" width="16" height="7"/><rect x="502" y="133" width="16" height="7"/><rect x="528" y="133" width="16" height="7"/><rect x="554" y="133" width="16" height="7"/><rect x="579" y="132" width="16" height="7"/><rect x="605" y="132" width="16" height="7"/><rect x="631" y="132" width="16" height="7"/><rect x="656" y="132" width="16" height="7"/><rect x="196" y="162" width="16" height="7"/><rect x="221" y="162" width="16" height="7"/><rect x="247" y="162" width="16" height="7"/><rect x="272" y="161" width="16" height="7"/><rect x="298" y="161" width="16" height="7"/><rect x="324" y="161" width="16" height="7"/><rect x="349" y="161" width="16" height="7"/><rect x="375" y="160" width="16" height="7"/><rect x="400" y="160" width="16" height="7"/><rect x="426" y="160" width="16" height="7"/><rect x="452" y="160" width="16" height="7"/><rect x="477" y="159" width="16" height="7"/><rect x="503" y="159" width="16" height="7"/><rect x="528" y="159" width="16" height="7"/><rect x="554" y="158" width="16" height="7"/><rect x="580" y="158" width="16" height="7"/><rect x="605" y="158" width="16" height="7"/><rect x="631" y="158" width="16" height="7"/><rect x="656" y="157" width="16" height="7"/><rect x="196" y="188" width="16" height="7"/><rect x="221" y="188" width="16" height="7"/><rect x="247" y="187" width="16" height="7"/><rect x="273" y="187" width="16" height="7"/><rect x="298" y="187" width="16" height="7"/><rect x="324" y="187" width="16" height="7"/><rect x="350" y="186" width="16" height="7"/><rect x="375" y="186" width="16" height="7"/><rect x="401" y="186" width="16" height="7"/><rect x="426" y="186" width="16" height="7"/><rect x="452" y="185" width="16" height="7"/><rect x="478" y="185" width="16" height="7"/><rect x="503" y="185" width="16" height="7"/><rect x="529" y="184" width="16" height="7"/><rect x="554" y="184" width="16" height="7"/><rect x="580" y="184" width="16" height="7"/><rect x="606" y="184" width="16" height="7"/><rect x="631" y="183" width="16" height="7"/><rect x="196" y="214" width="16" height="7"/><rect x="222" y="213" width="16" height="7"/><rect x="247" y="213" width="16" height="7"/><rect x="273" y="213" width="16" height="7"/><rect x="299" y="213" width="16" height="7"/><rect x="324" y="212" width="16" height="7"/><rect x="350" y="212" width="16" height="7"/><rect x="375" y="212" width="16" height="7"/><rect x="401" y="212" width="16" height="7"/><rect x="427" y="211" width="16" height="7"/><rect x="452" y="211" width="16" height="7"/><rect x="478" y="211" width="16" height="7"/><rect x="504" y="210" width="16" height="7"/><rect x="529" y="210" width="16" height="7"/><rect x="555" y="210" width="16" height="7"/><rect x="580" y="210" width="16" height="7"/><rect x="606" y="209" width="16" height="7"/><rect x="632" y="209" width="16" height="7"/><rect x="120" y="240" width="16" height="7"/><rect x="145" y="240" width="16" height="7"/><rect x="171" y="240" width="16" height="7"/><rect x="197" y="239" width="16" height="7"/><rect x="222" y="239" width="16" height="7"/><rect x="248" y="239" width="16" height="7"/><rect x="273" y="239" width="16" height="7"/><rect x="299" y="238" width="16" height="7"/><rect x="325" y="238" width="16" height="7"/><rect x="350" y="238" width="16" height="7"/><rect x="376" y="238" width="16" height="7"/><rect x="401" y="237" width="16" height="7"/><rect x="427" y="237" width="16" height="7"/><rect x="453" y="237" width="16" height="7"/><rect x="478" y="236" width="16" height="7"/><rect x="504" y="236" width="16" height="7"/><rect x="529" y="236" width="16" height="7"/><rect x="555" y="236" width="16" height="7"/><rect x="581" y="235" width="16" height="7"/><rect x="606" y="235" width="16" height="7"/><rect x="120" y="266" width="16" height="7"/><rect x="146" y="266" width="16" height="7"/><rect x="171" y="265" width="16" height="7"/><rect x="197" y="265" width="16" height="7"/><rect x="223" y="265" width="16" height="7"/><rect x="248" y="265" width="16" height="7"/><rect x="274" y="264" width="16" height="7"/><rect x="299" y="264" width="16" height="7"/><rect x="325" y="264" width="16" height="7"/><rect x="351" y="264" width="16" height="7"/><rect x="376" y="263" width="16" height="7"/><rect x="402" y="263" width="16" height="7"/><rect x="427" y="263" width="16" height="7"/><rect x="453" y="262" width="16" height="7"/><rect x="479" y="262" width="16" height="7"/><rect x="504" y="262" width="16" height="7"/><rect x="530" y="262" width="16" height="7"/><rect x="555" y="261" width="16" height="7"/><rect x="581" y="261" width="16" height="7"/><rect x="95" y="292" width="16" height="7"/><rect x="120" y="292" width="16" height="7"/><rect x="146" y="291" width="16" height="7"/><rect x="172" y="291" width="16" height="7"/><rect x="197" y="291" width="16" height="7"/><rect x="223" y="291" width="16" height="7"/><rect x="248" y="290" width="16" height="7"/><rect x="274" y="290" width="16" height="7"/><rect x="300" y="290" width="16" height="7"/><rect x="325" y="290" width="16" height="7"/><rect x="351" y="289" width="16" height="7"/><rect x="377" y="289" width="16" height="7"/><rect x="402" y="289" width="16" height="7"/><rect x="428" y="289" width="16" height="7"/><rect x="453" y="288" width="16" height="7"/><rect x="479" y="288" width="16" height="7"/><rect x="505" y="288" width="16" height="7"/><rect x="95" y="318" width="16" height="7"/><rect x="121" y="318" width="16" height="7"/><rect x="146" y="317" width="16" height="7"/><rect x="172" y="317" width="16" height="7"/><rect x="198" y="317" width="16" height="7"/><rect x="223" y="316" width="16" height="7"/><rect x="249" y="316" width="16" height="7"/><rect x="274" y="316" width="16" height="7"/><rect x="300" y="316" width="16" height="7"/><rect x="326" y="315" width="16" height="7"/><rect x="351" y="315" width="16" height="7"/><rect x="377" y="315" width="16" height="7"/><rect x="402" y="315" width="16" height="7"/><rect x="428" y="314" width="16" height="7"/><rect x="454" y="314" width="16" height="7"/><rect x="479" y="314" width="16" height="7"/><rect x="96" y="344" width="16" height="7"/><rect x="121" y="343" width="16" height="7"/><rect x="147" y="343" width="16" height="7"/><rect x="172" y="343" width="16" height="7"/><rect x="198" y="342" width="16" height="7"/><rect x="224" y="342" width="16" height="7"/><rect x="249" y="342" width="16" height="7"/><rect x="275" y="342" width="16" height="7"/><rect x="300" y="341" width="16" height="7"/><rect x="326" y="341" width="16" height="7"/><rect x="352" y="341" width="16" height="7"/><rect x="377" y="341" width="16" height="7"/><rect x="403" y="340" width="16" height="7"/><rect x="428" y="340" width="16" height="7"/><rect x="147" y="369" width="16" height="7"/><rect x="173" y="368" width="16" height="7"/><rect x="198" y="368" width="16" height="7"/><rect x="224" y="368" width="16" height="7"/><rect x="250" y="368" width="16" height="7"/><rect x="275" y="367" width="16" height="7"/><rect x="301" y="367" width="16" height="7"/><rect x="326" y="367" width="16" height="7"/><rect x="352" y="367" width="16" height="7"/><rect x="378" y="366" width="16" height="7"/><rect x="403" y="366" width="16" height="7"/><rect x="173" y="394" width="16" height="7"/><rect x="199" y="394" width="16" height="7"/><rect x="224" y="394" width="16" height="7"/><rect x="250" y="393" width="16" height="7"/><rect x="275" y="393" width="16" height="7"/><rect x="301" y="393" width="16" height="7"/><rect x="327" y="393" width="16" height="7"/><rect x="352" y="392" width="16" height="7"/><rect x="378" y="392" width="16" height="7"/><rect x="199" y="420" width="16" height="7"/><rect x="225" y="419" width="16" height="7"/><rect x="250" y="419" width="16" height="7"/><rect x="276" y="419" width="16" height="7"/><rect x="301" y="419" width="16" height="7"/><rect x="327" y="418" width="16" height="7"/><rect x="353" y="418" width="16" height="7"/><rect x="378" y="418" width="16" height="7"/><rect x="225" y="445" width="16" height="7"/><rect x="251" y="445" width="16" height="7"/><rect x="276" y="445" width="16" height="7"/><rect x="302" y="444" width="16" height="7"/><rect x="327" y="444" width="16" height="7"/><rect x="353" y="444" width="16" height="7"/><rect x="379" y="444" width="16" height="7"/></g>
<g class="lt"><g transform="translate(272 34)"><use href="#c34"/><use href="#r05"/></g><g transform="translate(297 33)"><use href="#c35"/><use href="#r05"/></g><g transform="translate(323 33)"><use href="#c36"/><use href="#r05"/></g><g transform="translate(348 33)"><use href="#c37"/><use href="#r05"/></g><g transform="translate(374 33)"><use href="#c38"/><use href="#r05"/></g><g transform="translate(400 32)"><use href="#c39"/><use href="#r05"/></g><g transform="translate(425 32)"><use href="#c40"/><use href="#r05"/></g><g transform="translate(451 32)"><use href="#c41"/><use href="#r05"/></g><g transform="translate(476 31)"><use href="#c42"/><use href="#r05"/></g><g transform="translate(502 31)"><use href="#c43"/><use href="#r05"/></g><g transform="translate(528 31)"><use href="#c44"/><use href="#r05"/></g><g transform="translate(272 59)"><use href="#c34"/><use href="#r04"/></g><g transform="translate(298 59)"><use href="#c35"/><use href="#r04"/></g><g transform="translate(323 59)"><use href="#c36"/><use href="#r04"/></g><g transform="translate(349 59)"><use href="#c37"/><use href="#r04"/></g><g transform="translate(374 58)"><use href="#c38"/><use href="#r04"/></g><g transform="translate(400 58)"><use href="#c39"/><use href="#r04"/></g><g transform="translate(426 58)"><use href="#c40"/><use href="#r04"/></g><g transform="translate(451 57)"><use href="#c41"/><use href="#r04"/></g><g transform="translate(477 57)"><use href="#c42"/><use href="#r04"/></g><g transform="translate(502 57)"><use href="#c43"/><use href="#r04"/></g><g transform="translate(528 57)"><use href="#c44"/><use href="#r04"/></g><g transform="translate(272 85)"><use href="#c34"/><use href="#r03"/></g><g transform="translate(298 85)"><use href="#c35"/><use href="#r03"/></g><g transform="translate(323 85)"><use href="#c36"/><use href="#r03"/></g><g transform="translate(349 84)"><use href="#c37"/><use href="#r03"/></g><g transform="translate(375 84)"><use href="#c38"/><use href="#r03"/></g><g transform="translate(400 84)"><use href="#c39"/><use href="#r03"/></g><g transform="translate(426 84)"><use href="#c40"/><use href="#r03"/></g><g transform="translate(452 83)"><use href="#c41"/><use href="#r03"/></g><g transform="translate(477 83)"><use href="#c42"/><use href="#r03"/></g><g transform="translate(503 83)"><use href="#c43"/><use href="#r03"/></g><g transform="translate(528 82)"><use href="#c44"/><use href="#r03"/></g><g transform="translate(554 82)"><use href="#c45"/><use href="#r03"/></g><g transform="translate(580 82)"><use href="#c46"/><use href="#r03"/></g><g transform="translate(605 82)"><use href="#c47"/><use href="#r03"/></g><g transform="translate(631 81)"><use href="#c48"/><use href="#r03"/></g><g transform="translate(656 81)"><use href="#c49"/><use href="#r03"/></g><g transform="translate(682 81)"><use href="#c50"/><use href="#r03"/></g><g transform="translate(273 111)"><use href="#c34"/><use href="#r02"/></g><g transform="translate(298 111)"><use href="#c35"/><use href="#r02"/></g><g transform="translate(324 110)"><use href="#c36"/><use href="#r02"/></g><g transform="translate(349 110)"><use href="#c37"/><use href="#r02"/></g><g transform="translate(375 110)"><use href="#c38"/><use href="#r02"/></g><g transform="translate(401 110)"><use href="#c39"/><use href="#r02"/></g><g transform="translate(426 109)"><use href="#c40"/><use href="#r02"/></g><g transform="translate(452 109)"><use href="#c41"/><use href="#r02"/></g><g transform="translate(478 109)"><use href="#c42"/><use href="#r02"/></g><g transform="translate(503 108)"><use href="#c43"/><use href="#r02"/></g><g transform="translate(529 108)"><use href="#c44"/><use href="#r02"/></g><g transform="translate(554 108)"><use href="#c45"/><use href="#r02"/></g><g transform="translate(580 108)"><use href="#c46"/><use href="#r02"/></g><g transform="translate(606 107)"><use href="#c47"/><use href="#r02"/></g><g transform="translate(631 107)"><use href="#c48"/><use href="#r02"/></g><g transform="translate(657 107)"><use href="#c49"/><use href="#r02"/></g><g transform="translate(682 107)"><use href="#c50"/><use href="#r02"/></g><g transform="translate(196 137)"><use href="#c31"/><use href="#r01"/></g><g transform="translate(222 137)"><use href="#c32"/><use href="#r01"/></g><g transform="translate(247 137)"><use href="#c33"/><use href="#r01"/></g><g transform="translate(273 137)"><use href="#c34"/><use href="#r01"/></g><g transform="translate(299 136)"><use href="#c35"/><use href="#r01"/></g><g transform="translate(324 136)"><use href="#c36"/><use href="#r01"/></g><g transform="translate(350 136)"><use href="#c37"/><use href="#r01"/></g><g transform="translate(375 136)"><use href="#c38"/><use href="#r01"/></g><g transform="translate(401 135)"><use href="#c39"/><use href="#r01"/></g><g transform="translate(427 135)"><use href="#c40"/><use href="#r01"/></g><g transform="translate(452 135)"><use href="#c41"/><use href="#r01"/></g><g transform="translate(478 134)"><use href="#c42"/><use href="#r01"/></g><g transform="translate(503 134)"><use href="#c43"/><use href="#r01"/></g><g transform="translate(529 134)"><use href="#c44"/><use href="#r01"/></g><g transform="translate(555 134)"><use href="#c45"/><use href="#r01"/></g><g transform="translate(580 133)"><use href="#c46"/><use href="#r01"/></g><g transform="translate(606 133)"><use href="#c47"/><use href="#r01"/></g><g transform="translate(632 133)"><use href="#c48"/><use href="#r01"/></g><g transform="translate(657 133)"><use href="#c49"/><use href="#r01"/></g><g transform="translate(197 163)"><use href="#c31"/><use href="#r00"/></g><g transform="translate(222 163)"><use href="#c32"/><use href="#r00"/></g><g transform="translate(248 163)"><use href="#c33"/><use href="#r00"/></g><g transform="translate(273 162)"><use href="#c34"/><use href="#r00"/></g><g transform="translate(299 162)"><use href="#c35"/><use href="#r00"/></g><g transform="translate(325 162)"><use href="#c36"/><use href="#r00"/></g><g transform="translate(350 162)"><use href="#c37"/><use href="#r00"/></g><g transform="translate(376 161)"><use href="#c38"/><use href="#r00"/></g><g transform="translate(401 161)"><use href="#c39"/><use href="#r00"/></g><g transform="translate(427 161)"><use href="#c40"/><use href="#r00"/></g><g transform="translate(453 161)"><use href="#c41"/><use href="#r00"/></g><g transform="translate(478 160)"><use href="#c42"/><use href="#r00"/></g><g transform="translate(504 160)"><use href="#c43"/><use href="#r00"/></g><g transform="translate(529 160)"><use href="#c44"/><use href="#r00"/></g><g transform="translate(555 159)"><use href="#c45"/><use href="#r00"/></g><g transform="translate(581 159)"><use href="#c46"/><use href="#r00"/></g><g transform="translate(606 159)"><use href="#c47"/><use href="#r00"/></g><g transform="translate(632 159)"><use href="#c48"/><use href="#r00"/></g><g transform="translate(657 158)"><use href="#c49"/><use href="#r00"/></g><g transform="translate(197 189)"><use href="#c31"/><use href="#r99"/></g><g transform="translate(222 189)"><use href="#c32"/><use href="#r99"/></g><g transform="translate(248 188)"><use href="#c33"/><use href="#r99"/></g><g transform="translate(274 188)"><use href="#c34"/><use href="#r99"/></g><g transform="translate(299 188)"><use href="#c35"/><use href="#r99"/></g><g transform="translate(325 188)"><use href="#c36"/><use href="#r99"/></g><g transform="translate(351 187)"><use href="#c37"/><use href="#r99"/></g><g transform="translate(376 187)"><use href="#c38"/><use href="#r99"/></g><g transform="translate(402 187)"><use href="#c39"/><use href="#r99"/></g><g transform="translate(427 187)"><use href="#c40"/><use href="#r99"/></g><g transform="translate(453 186)"><use href="#c41"/><use href="#r99"/></g><g transform="translate(479 186)"><use href="#c42"/><use href="#r99"/></g><g transform="translate(504 186)"><use href="#c43"/><use href="#r99"/></g><g transform="translate(530 185)"><use href="#c44"/><use href="#r99"/></g><g transform="translate(555 185)"><use href="#c45"/><use href="#r99"/></g><g transform="translate(581 185)"><use href="#c46"/><use href="#r99"/></g><g transform="translate(607 185)"><use href="#c47"/><use href="#r99"/></g><g transform="translate(632 184)"><use href="#c48"/><use href="#r99"/></g><g transform="translate(197 215)"><use href="#c31"/><use href="#r98"/></g><g transform="translate(223 214)"><use href="#c32"/><use href="#r98"/></g><g transform="translate(248 214)"><use href="#c33"/><use href="#r98"/></g><g transform="translate(274 214)"><use href="#c34"/><use href="#r98"/></g><g transform="translate(300 214)"><use href="#c35"/><use href="#r98"/></g><g transform="translate(325 213)"><use href="#c36"/><use href="#r98"/></g><g transform="translate(351 213)"><use href="#c37"/><use href="#r98"/></g><g transform="translate(376 213)"><use href="#c38"/><use href="#r98"/></g><g transform="translate(402 213)"><use href="#c39"/><use href="#r98"/></g><g transform="translate(428 212)"><use href="#c40"/><use href="#r98"/></g><g transform="translate(453 212)"><use href="#c41"/><use href="#r98"/></g><g transform="translate(479 212)"><use href="#c42"/><use href="#r98"/></g><g transform="translate(505 211)"><use href="#c43"/><use href="#r98"/></g><g transform="translate(530 211)"><use href="#c44"/><use href="#r98"/></g><g transform="translate(556 211)"><use href="#c45"/><use href="#r98"/></g><g transform="translate(581 211)"><use href="#c46"/><use href="#r98"/></g><g transform="translate(607 210)"><use href="#c47"/><use href="#r98"/></g><g transform="translate(633 210)"><use href="#c48"/><use href="#r98"/></g><g transform="translate(121 241)"><use href="#c28"/><use href="#r97"/></g><g transform="translate(146 241)"><use href="#c29"/><use href="#r97"/></g><g transform="translate(172 241)"><use href="#c30"/><use href="#r97"/></g><g transform="translate(198 240)"><use href="#c31"/><use href="#r97"/></g><g transform="translate(223 240)"><use href="#c32"/><use href="#r97"/></g><g transform="translate(249 240)"><use href="#c33"/><use href="#r97"/></g><g transform="translate(274 240)"><use href="#c34"/><use href="#r97"/></g><g transform="translate(300 239)"><use href="#c35"/><use href="#r97"/></g><g transform="translate(326 239)"><use href="#c36"/><use href="#r97"/></g><g transform="translate(351 239)"><use href="#c37"/><use href="#r97"/></g><g transform="translate(377 239)"><use href="#c38"/><use href="#r97"/></g><g transform="translate(402 238)"><use href="#c39"/><use href="#r97"/></g><g transform="translate(428 238)"><use href="#c40"/><use href="#r97"/></g><g transform="translate(454 238)"><use href="#c41"/><use href="#r97"/></g><g transform="translate(479 237)"><use href="#c42"/><use href="#r97"/></g><g transform="translate(505 237)"><use href="#c43"/><use href="#r97"/></g><g transform="translate(530 237)"><use href="#c44"/><use href="#r97"/></g><g transform="translate(556 237)"><use href="#c45"/><use href="#r97"/></g><g transform="translate(582 236)"><use href="#c46"/><use href="#r97"/></g><g transform="translate(607 236)"><use href="#c47"/><use href="#r97"/></g><g transform="translate(121 267)"><use href="#c28"/><use href="#r96"/></g><g transform="translate(147 267)"><use href="#c29"/><use href="#r96"/></g><g transform="translate(172 266)"><use href="#c30"/><use href="#r96"/></g><g transform="translate(198 266)"><use href="#c31"/><use href="#r96"/></g><g transform="translate(224 266)"><use href="#c32"/><use href="#r96"/></g><g transform="translate(249 266)"><use href="#c33"/><use href="#r96"/></g><g transform="translate(275 265)"><use href="#c34"/><use href="#r96"/></g><g transform="translate(300 265)"><use href="#c35"/><use href="#r96"/></g><g transform="translate(326 265)"><use href="#c36"/><use href="#r96"/></g><g transform="translate(352 265)"><use href="#c37"/><use href="#r96"/></g><g transform="translate(377 264)"><use href="#c38"/><use href="#r96"/></g><g transform="translate(403 264)"><use href="#c39"/><use href="#r96"/></g><g transform="translate(428 264)"><use href="#c40"/><use href="#r96"/></g><g transform="translate(454 263)"><use href="#c41"/><use href="#r96"/></g><g transform="translate(480 263)"><use href="#c42"/><use href="#r96"/></g><g transform="translate(505 263)"><use href="#c43"/><use href="#r96"/></g><g transform="translate(531 263)"><use href="#c44"/><use href="#r96"/></g><g transform="translate(556 262)"><use href="#c45"/><use href="#r96"/></g><g transform="translate(582 262)"><use href="#c46"/><use href="#r96"/></g><g transform="translate(96 293)"><use href="#c27"/><use href="#r95"/></g><g transform="translate(121 293)"><use href="#c28"/><use href="#r95"/></g><g transform="translate(147 292)"><use href="#c29"/><use href="#r95"/></g><g transform="translate(173 292)"><use href="#c30"/><use href="#r95"/></g><g transform="translate(198 292)"><use href="#c31"/><use href="#r95"/></g><g transform="translate(224 292)"><use href="#c32"/><use href="#r95"/></g><g transform="translate(249 291)"><use href="#c33"/><use href="#r95"/></g><g transform="translate(275 291)"><use href="#c34"/><use href="#r95"/></g><g transform="translate(301 291)"><use href="#c35"/><use href="#r95"/></g><g transform="translate(326 291)"><use href="#c36"/><use href="#r95"/></g><g transform="translate(352 290)"><use href="#c37"/><use href="#r95"/></g><g transform="translate(378 290)"><use href="#c38"/><use href="#r95"/></g><g transform="translate(403 290)"><use href="#c39"/><use href="#r95"/></g><g transform="translate(429 290)"><use href="#c40"/><use href="#r95"/></g><g transform="translate(454 289)"><use href="#c41"/><use href="#r95"/></g><g transform="translate(480 289)"><use href="#c42"/><use href="#r95"/></g><g transform="translate(506 289)"><use href="#c43"/><use href="#r95"/></g><g transform="translate(96 319)"><use href="#c27"/><use href="#r94"/></g><g transform="translate(122 319)"><use href="#c28"/><use href="#r94"/></g><g transform="translate(147 318)"><use href="#c29"/><use href="#r94"/></g><g transform="translate(173 318)"><use href="#c30"/><use href="#r94"/></g><g transform="translate(199 318)"><use href="#c31"/><use href="#r94"/></g><g transform="translate(224 317)"><use href="#c32"/><use href="#r94"/></g><g transform="translate(250 317)"><use href="#c33"/><use href="#r94"/></g><g transform="translate(275 317)"><use href="#c34"/><use href="#r94"/></g><g transform="translate(301 317)"><use href="#c35"/><use href="#r94"/></g><g transform="translate(327 316)"><use href="#c36"/><use href="#r94"/></g><g transform="translate(352 316)"><use href="#c37"/><use href="#r94"/></g><g transform="translate(378 316)"><use href="#c38"/><use href="#r94"/></g><g transform="translate(403 316)"><use href="#c39"/><use href="#r94"/></g><g transform="translate(429 315)"><use href="#c40"/><use href="#r94"/></g><g transform="translate(455 315)"><use href="#c41"/><use href="#r94"/></g><g transform="translate(480 315)"><use href="#c42"/><use href="#r94"/></g><g transform="translate(97 345)"><use href="#c27"/><use href="#r93"/></g><g transform="translate(122 344)"><use href="#c28"/><use href="#r93"/></g><g transform="translate(148 344)"><use href="#c29"/><use href="#r93"/></g><g transform="translate(173 344)"><use href="#c30"/><use href="#r93"/></g><g transform="translate(199 343)"><use href="#c31"/><use href="#r93"/></g><g transform="translate(225 343)"><use href="#c32"/><use href="#r93"/></g><g transform="translate(250 343)"><use href="#c33"/><use href="#r93"/></g><g transform="translate(276 343)"><use href="#c34"/><use href="#r93"/></g><g transform="translate(301 342)"><use href="#c35"/><use href="#r93"/></g><g transform="translate(327 342)"><use href="#c36"/><use href="#r93"/></g><g transform="translate(353 342)"><use href="#c37"/><use href="#r93"/></g><g transform="translate(378 342)"><use href="#c38"/><use href="#r93"/></g><g transform="translate(404 341)"><use href="#c39"/><use href="#r93"/></g><g transform="translate(429 341)"><use href="#c40"/><use href="#r93"/></g><g transform="translate(148 370)"><use href="#c29"/><use href="#r92"/></g><g transform="translate(174 369)"><use href="#c30"/><use href="#r92"/></g><g transform="translate(199 369)"><use href="#c31"/><use href="#r92"/></g><g transform="translate(225 369)"><use href="#c32"/><use href="#r92"/></g><g transform="translate(251 369)"><use href="#c33"/><use href="#r92"/></g><g transform="translate(276 368)"><use href="#c34"/><use href="#r92"/></g><g transform="translate(302 368)"><use href="#c35"/><use href="#r92"/></g><g transform="translate(327 368)"><use href="#c36"/><use href="#r92"/></g><g transform="translate(353 368)"><use href="#c37"/><use href="#r92"/></g><g transform="translate(379 367)"><use href="#c38"/><use href="#r92"/></g><g transform="translate(404 367)"><use href="#c39"/><use href="#r92"/></g><g transform="translate(174 395)"><use href="#c30"/><use href="#r91"/></g><g transform="translate(200 395)"><use href="#c31"/><use href="#r91"/></g><g transform="translate(225 395)"><use href="#c32"/><use href="#r91"/></g><g transform="translate(251 394)"><use href="#c33"/><use href="#r91"/></g><g transform="translate(276 394)"><use href="#c34"/><use href="#r91"/></g><g transform="translate(302 394)"><use href="#c35"/><use href="#r91"/></g><g transform="translate(328 394)"><use href="#c36"/><use href="#r91"/></g><g transform="translate(353 393)"><use href="#c37"/><use href="#r91"/></g><g transform="translate(379 393)"><use href="#c38"/><use href="#r91"/></g><g transform="translate(200 421)"><use href="#c31"/><use href="#r90"/></g><g transform="translate(226 420)"><use href="#c32"/><use href="#r90"/></g><g transform="translate(251 420)"><use href="#c33"/><use href="#r90"/></g><g transform="translate(277 420)"><use href="#c34"/><use href="#r90"/></g><g transform="translate(302 420)"><use href="#c35"/><use href="#r90"/></g><g transform="translate(328 419)"><use href="#c36"/><use href="#r90"/></g><g transform="translate(354 419)"><use href="#c37"/><use href="#r90"/></g><g transform="translate(379 419)"><use href="#c38"/><use href="#r90"/></g><g transform="translate(226 446)"><use href="#c32"/><use href="#r89"/></g><g transform="translate(252 446)"><use href="#c33"/><use href="#r89"/></g><g transform="translate(277 446)"><use href="#c34"/><use href="#r89"/></g><g transform="translate(303 445)"><use href="#c35"/><use href="#r89"/></g><g transform="translate(328 445)"><use href="#c36"/><use href="#r89"/></g><g transform="translate(354 445)"><use href="#c37"/><use href="#r89"/></g><g transform="translate(380 445)"><use href="#c38"/><use href="#r89"/></g></g>
<!-- map legend -->
<path d="M525 368.4H572.6" stroke="#000" stroke-width="3" fill="none" shape-rendering="crispEdges"/>
<path d="M525 388.6H536.2M544.7 388.6H556.5M565 388.6H572.6" stroke="#000" stroke-width="2" fill="none" shape-rendering="crispEdges"/>
<rect x="524.5" y="424.5" width="22" height="20" fill="url(#h)" stroke="#000" stroke-width="1" shape-rendering="crispEdges"/>
<g font-family="Liberation Serif, serif" fill="#000" filter="url(#bw3)">
<text x="578.7" y="373.2" font-size="14" textLength="164.3" lengthAdjust="spacingAndGlyphs">RELEASE AREA BOUNDARY</text>
<text x="578.7" y="393.8" font-size="14" textLength="81.3" lengthAdjust="spacingAndGlyphs">COUNTY LINE</text>
</g><g font-family="Liberation Serif, serif" fill="#000" filter="url(#bw4)">
<text x="560.5" y="432.7" font-size="13" textLength="126.2" lengthAdjust="spacingAndGlyphs">NO AVAILABLE HOST</text>
<text x="560.5" y="445.8" font-size="13" textLength="85.8" lengthAdjust="spacingAndGlyphs">YEAR - ROUND</text>
</g><g font-family="Liberation Serif, serif" fill="#000" filter="url(#bw)">
<!-- title -->
<text x="283.6" y="504" font-size="20" textLength="222.6">Medfly Preventive Release</text>
<text x="311.8" y="524.7" font-size="20" textLength="171.2">Sterile Fly Recovery</text>
<text x="311.3" y="542.1" font-size="17.5" textLength="170.5">Riverside County Area</text>
<text x="279" y="561.1" font-size="17.5" textLength="228.7" xml:space="preserve">Cycle 76    06/05/00 - 06/15/00</text>
</g><g font-family="Liberation Serif, serif" fill="#000" filter="url(#bw3)">
<text x="225.3" y="576.9" font-size="10" textLength="334">NOTE: UNSHADED GRIDS EITHER HAVE NO SEASONALLY AVAILABLE</text>
<text x="258.9" y="588" font-size="10" textLength="274">HOST, OR THE TRAPS WERE NOT SERVICED THIS WEEK.</text>
<text x="72.9" y="598.9" font-size="13.2" textLength="88.9">AREA MAPPED</text>
</g>
<!-- stats legend -->
<rect x="585.5" y="489.5" width="186" height="91" fill="#fff" stroke="#000" stroke-width="1" shape-rendering="crispEdges"/>
<g font-family="Liberation Sans, sans-serif" font-size="10" fill="#f00" filter="url(#bw)">
<text x="596.4" y="503.2" textLength="144.7">AVERAGE NUMBER OF FLIES</text>
<text x="596.4" y="515.8" textLength="147.7">CAUGHT PER TRAP, PER DAY</text>
</g>
<g stroke="#000" stroke-width="1" shape-rendering="crispEdges">
<rect x="612.5" y="525.5" width="10" height="10" fill="#f00"/>
<rect x="612.5" y="537.5" width="10" height="10" fill="#ff0"/>
<rect x="612.5" y="550.5" width="10" height="10" fill="#5ff"/>
<rect x="612.5" y="562.5" width="10" height="10" fill="#0f0"/>
</g>
<g font-family="Liberation Sans, sans-serif" font-size="10" fill="#00f" filter="url(#bw)">
<text x="631.3" y="534.2" textLength="65.4">LESS THAN 1</text><text x="708.8" y="534.2" textLength="18.2">(11)</text>
<text x="631.3" y="546.9" textLength="62.3">&gt;= 1 AND &lt; 2</text><text x="714.6" y="546.9" textLength="12.4">(2)</text>
<text x="631.3" y="558.7" textLength="62.3">&gt;= 2 AND &lt; 3</text><text x="708.8" y="558.7" textLength="18.2">(11)</text>
<text x="631.3" y="571.6" textLength="56.8">3 OR MORE</text><text x="703.7" y="571.6" textLength="24.5">(112)</text>
</g>
<!-- inset -->
<rect x="20.5" y="474.5" width="190" height="111" fill="#fff" stroke="#000" stroke-width="1" shape-rendering="crispEdges"/>
<path d="M21 517.5H49L54.8 524.2L58.6 530L62.1 539.7L62.5 546.5L58.6 551.3L59.6 555.6L73.1 561.4L74 552H89.6L95.4 557.1L103.1 566.8L114.5 575.6L122.3 578.5L131 585H21Z" fill="#0ff"/>
<path d="M153.2 518.1H183.3L179.4 529.1L159 539.8L158.1 546.5H152.3L146.5 539.8L143.6 538.8V533L148.4 532L149.4 525.2L153.2 523.3Z" fill="#666"/>
<path d="M31.5 503.9L31.9 495.2L34.4 488.4L40.2 484L48 480.1L54.8 478.8L62.5 485.2L71.2 485.5L85.7 493.3L95.4 497.1L105.8 501H146.5L165.8 500.1L172.6 493.7L196.8 503.9L199.7 517.5L183.3 517.9L179.4 529.1L159 539.8L158.1 546.5H152.3L146.5 539.8L143.6 538.8L133.9 539.4L131.9 547.5L133.9 562L122.3 577.5L114.5 575.6L103.1 566.8L95.4 557.1L89.6 553.2L79.9 550.7L74 552L73.1 561.4L59.6 555.6L58.6 551.3L62.5 546.5L62.1 539.7L58.6 530L54.8 524.2L49 517.5V511.6L52.8 510.7V507.8L49.9 504.5Z" fill="none" stroke="#000" stroke-width="3.4" stroke-linejoin="round" shape-rendering="crispEdges"/>
<path d="M39 518.6L43 512H50V518.6ZM56 527.5H66V532.6H58ZM70.6 548H76V553.4H70.6Z" fill="#000" shape-rendering="crispEdges"/>
<g font-family="Liberation Sans, sans-serif" font-size="6.8" fill="#000" filter="url(#bw3)">
<text x="93.8" y="486.7" textLength="85.3">PREVENTIVE RELEASE</text>
<text x="123.2" y="495.8" textLength="21">AREA</text>
</g>

</svg>
<!--TEXT-->
</body></html>
